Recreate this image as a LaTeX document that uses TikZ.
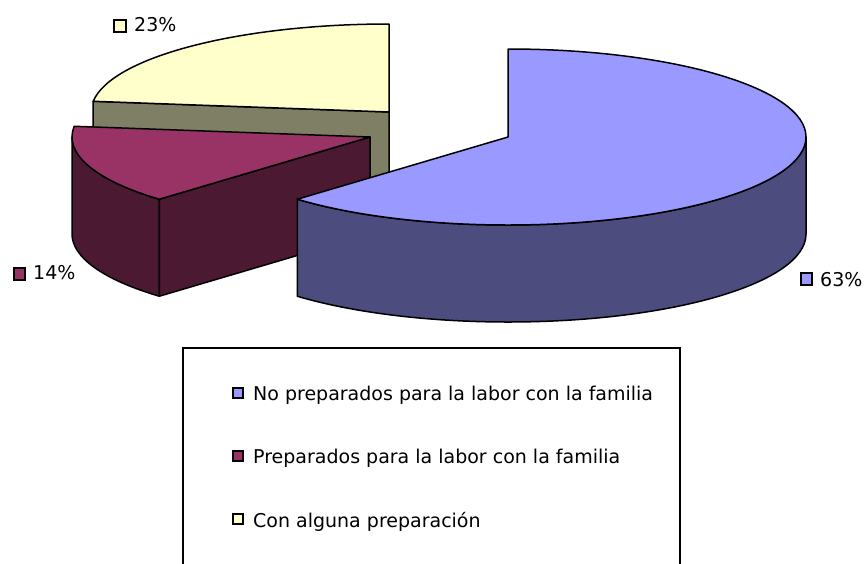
\documentclass[tikz,border=0pt]{standalone}
\usepackage{fontspec}
\setmainfont{DejaVu Sans}
\usetikzlibrary{calc}
\definecolor{bluetop}{HTML}{9999FF}
\definecolor{blueside}{HTML}{4C4C7F}
\definecolor{martop}{HTML}{993366}
\definecolor{marside}{HTML}{4C1933}
\definecolor{yeltop}{HTML}{FFFFCC}
\definecolor{yelside}{HTML}{7F7F66}
\tikzset{
  pieedge/.style={draw=black, line width=1.5pt, line join=round},
  keybox/.style={draw=black, line width=1.2pt},
  lbl/.style={font=\fontsize{19}{22}\selectfont, inner sep=0pt, anchor=base west},
  elarc/.style={x radius=298, y radius=88}
}
\begin{document}
\begin{tikzpicture}[x=1pt,y=1pt]
\useasboundingbox (0,0) rectangle (865,-563);
\clip (0,0) rectangle (865,-563);
\fill[white] (0,0) rectangle (865,-563);
% apexes of the exploded slices
\coordinate (Y) at (389,-112);
\coordinate (M) at (370,-137);
\coordinate (B) at (508,-137);
% yellow slice (23%)
\filldraw[pieedge, fill=yelside] (Y) -- ($(Y)+(173:298 and 88)$) -- ++(0,-97) -- ($(Y)+(0,-97)$) -- cycle;
\filldraw[pieedge, fill=yeltop] (Y) -- ($(Y)+(90:298 and 88)$) arc[start angle=90, end angle=173, elarc] -- cycle;
% maroon slice (14%)
\filldraw[pieedge, fill=marside] ($(M)+(180:298 and 88)$) arc[start angle=180, end angle=225, elarc] -- ++(0,-97) arc[start angle=225, end angle=180, elarc] -- cycle;
\filldraw[pieedge, fill=marside] (M) -- ($(M)+(225:298 and 88)$) -- ++(0,-97) -- ($(M)+(0,-97)$) -- cycle;
\filldraw[pieedge, fill=martop] (M) -- ($(M)+(173:298 and 88)$) arc[start angle=173, end angle=225, elarc] -- cycle;
% blue slice (63%)
\filldraw[pieedge, fill=blueside] ($(B)+(225:298 and 88)$) arc[start angle=225, end angle=360, elarc] -- ++(0,-97) arc[start angle=360, end angle=225, elarc] -- cycle;
\filldraw[pieedge, fill=bluetop] (B) -- ($(B)+(90:298 and 88)$) arc[start angle=90, end angle=-135, elarc] -- cycle;
% data labels
\filldraw[keybox, fill=yeltop] (114,-20) rectangle (126,-32);
\node[lbl] (p23) at (134,-31) {23\%};
\filldraw[keybox, fill=martop] (14,-268) rectangle (25,-280);
\node[lbl] (p14) at (33,-279) {14\%};
\filldraw[keybox, fill=bluetop] (801,-273) rectangle (812,-285);
\node[lbl] (p63) at (820,-286) {63\%};
% legend
\draw[line width=1.5pt] (183,-348) rectangle (680,-600);
\filldraw[keybox, fill=bluetop] (233,-388) rectangle (243,-398);
\node[lbl] (k1) at (253,-400) {No preparados para la labor con la familia};
\filldraw[keybox, fill=martop] (233,-451) rectangle (243,-461);
\node[lbl] (k2) at (253,-463) {Preparados para la labor con la familia};
\filldraw[keybox, fill=yeltop] (233,-514) rectangle (243,-524);
\node[lbl] (k3) at (253,-527) {Con alguna preparación};
\end{tikzpicture}
\end{document}
